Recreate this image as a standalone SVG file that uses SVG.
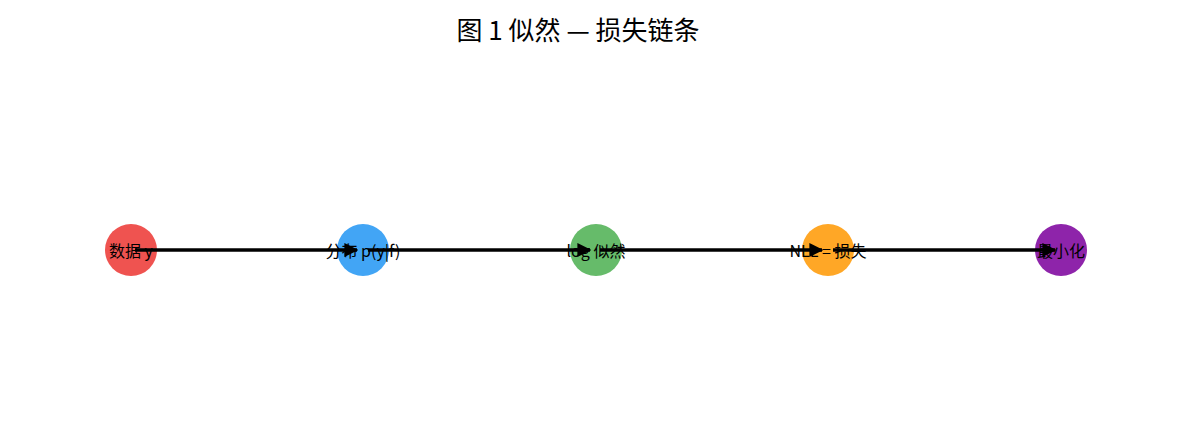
<svg xmlns="http://www.w3.org/2000/svg" width="1192" height="439" viewBox="0 0 1192 439">
<style>
text{font-family:"Noto Sans CJK SC","Liberation Sans",sans-serif;fill:#000}
.t{font-size:16px;text-anchor:middle;dominant-baseline:central}
.e{stroke:#000;stroke-width:3.5;fill:none;marker-end:url(#a)}
</style>
<defs><marker id="a" viewBox="0 0 10 10" refX="9" refY="5" markerWidth="4" markerHeight="4" orient="auto"><path d="M0,0L10,5L0,10z" fill="#000"/></marker></defs>
<rect width="1192" height="439" fill="#fff"/>
<text x="578" y="40" font-size="26" text-anchor="middle">图 1   似然 — 损失链条</text>
<g id="n1"><circle cx="131" cy="250" r="26" fill="#ef5350"/><text class="t" x="131" y="250">数据 y</text></g>
<g id="n2"><circle cx="363" cy="250" r="26" fill="#42a5f5"/><text class="t" x="363" y="250">分布 p(y|f)</text></g>
<g id="n3"><circle cx="596" cy="250" r="26" fill="#66bb6a"/><text class="t" x="596" y="250">log 似然</text></g>
<g id="n4"><circle cx="828" cy="250" r="26" fill="#ffa726"/><text class="t" x="828" y="250">NLL = 损失</text></g>
<g id="n5"><circle cx="1061" cy="250" r="26" fill="#8e24aa"/><text class="t" x="1061" y="250">最小化</text></g>
<g id="edges">
<line class="e" x1="135" y1="250" x2="357" y2="250"/>
<line class="e" x1="368" y1="250" x2="590" y2="250"/>
<line class="e" x1="600" y1="250" x2="822" y2="250"/>
<line class="e" x1="833" y1="250" x2="1055" y2="250"/>
</g>
</svg>
